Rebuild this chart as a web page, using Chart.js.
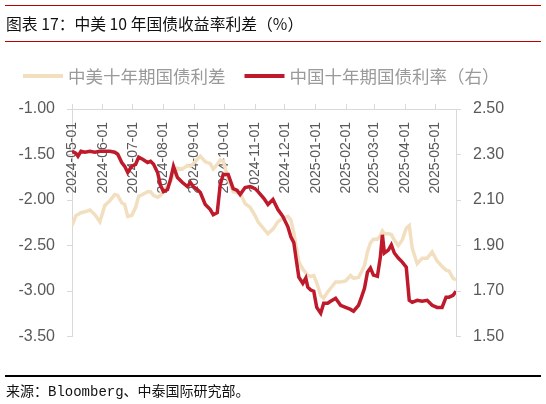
<!DOCTYPE html>
<html>
<head>
<meta charset="utf-8">
<script src="https://cdn.jsdelivr.net/npm/chart.js@4.4.1/dist/chart.umd.min.js"></script>
<style>
  html, body { margin:0; padding:0; background:#fff; }
  body { width:546px; height:404px; position:relative; overflow:hidden; }
  #c { position:absolute; left:0; top:0; }
  .rule { position:absolute; left:5px; width:536px; }
  #title { position:absolute; left:6px; top:13px; font:15.8px "Noto Sans CJK SC", sans-serif; color:#111; white-space:nowrap; line-height:22px; }
  #source { position:absolute; left:6px; top:382px; font:14px "Liberation Mono", "Noto Sans CJK SC", monospace; color:#111; white-space:nowrap; line-height:20px; }
</style>
</head>
<body>
<canvas id="c" width="546" height="404"></canvas>
<div class="rule" style="top:5px;height:1px;background:#c00000;"></div>
<div id="title">图表 17：中美 10 年国债收益率利差（%）</div>
<div class="rule" style="top:41px;height:1px;background:#c00000;"></div>
<div class="rule" style="top:375px;height:2px;background:#000;"></div>
<div id="source">来源：Bloomberg、中泰国际研究部。</div>
<script>
const seriesNames = ['中美十年期国债利差', '中国十年期国债利率（右）'];
const dates = [
 '2024-05-01','2024-05-05','2024-05-07','2024-05-10','2024-05-14','2024-05-19','2024-05-24','2024-05-29',
 '2024-06-03','2024-06-08','2024-06-13','2024-06-16','2024-06-20','2024-06-23','2024-06-26','2024-06-30',
 '2024-07-04','2024-07-07','2024-07-11','2024-07-16','2024-07-19','2024-07-22','2024-07-26','2024-07-29',
 '2024-08-01','2024-08-05','2024-08-08','2024-08-11','2024-08-15','2024-08-20','2024-08-25','2024-08-28','2024-08-31',
 '2024-09-04','2024-09-07','2024-09-12','2024-09-17','2024-09-20','2024-09-24','2024-09-27','2024-09-30',
 '2024-10-05','2024-10-10','2024-10-14','2024-10-17','2024-10-22','2024-10-27',
 '2024-11-01','2024-11-04','2024-11-10','2024-11-14','2024-11-19','2024-11-24','2024-11-29',
 '2024-12-04','2024-12-07','2024-12-10','2024-12-12','2024-12-15','2024-12-19','2024-12-22','2024-12-24','2024-12-27','2024-12-30',
 '2025-01-02','2025-01-06','2025-01-09','2025-01-13','2025-01-16','2025-01-21','2025-01-26','2025-01-31',
 '2025-02-05','2025-02-08','2025-02-13','2025-02-16','2025-02-19','2025-02-22','2025-02-25','2025-02-28',
 '2025-03-04','2025-03-07','2025-03-09','2025-03-11','2025-03-15','2025-03-18','2025-03-21','2025-03-25','2025-03-29',
 '2025-04-02','2025-04-05','2025-04-08','2025-04-13','2025-04-18','2025-04-23','2025-04-28',
 '2025-05-03','2025-05-08','2025-05-12','2025-05-15','2025-05-19','2025-05-22'
];
const spread = [
 -2.28,-2.17,-2.16,-2.14,-2.13,-2.11,-2.16,-2.24,
 -2.06,-2.01,-1.94,-1.95,-2.03,-2.05,-2.18,-2.17,
 -2.08,-1.96,-1.94,-1.91,-1.91,-1.95,-1.97,-1.95,
 -1.89,-1.85,-1.80,-1.72,-1.65,-1.66,-1.62,-1.63,-1.60,
 -1.55,-1.52,-1.58,-1.60,-1.66,-1.61,-1.56,-1.57,
 -1.77,-1.91,-1.92,-1.92,-2.04,-2.08,
 -2.17,-2.24,-2.32,-2.37,-2.32,-2.24,-2.20,
 -2.18,-2.22,-2.36,-2.49,-2.68,-2.76,-2.80,-2.83,-2.84,-2.83,
 -2.91,-3.05,-3.08,-3.01,-2.97,-2.90,-2.90,-2.89,
 -2.83,-2.86,-2.85,-2.79,-2.72,-2.57,-2.47,-2.43,
 -2.43,-2.39,-2.34,-2.37,-2.37,-2.38,-2.44,-2.50,-2.44,
 -2.31,-2.28,-2.53,-2.70,-2.64,-2.64,-2.57,
 -2.67,-2.73,-2.77,-2.78,-2.86,-2.88
];
const cnYield = [
 2.314,2.305,2.292,2.314,2.310,2.314,2.310,2.314,
 2.314,2.314,2.310,2.301,2.265,2.248,2.221,2.248,
 2.257,2.288,2.279,2.265,2.270,2.257,2.221,2.164,
 2.137,2.146,2.190,2.248,2.199,2.177,2.159,2.177,2.159,
 2.146,2.133,2.080,2.058,2.035,2.044,2.168,2.212,
 2.212,2.150,2.142,2.124,2.155,2.159,
 2.150,2.137,2.106,2.080,2.102,2.058,2.027,
 1.982,1.938,1.912,1.850,1.761,1.734,1.757,1.717,1.704,1.699,
 1.628,1.602,1.646,1.646,1.655,1.668,1.637,1.628,
 1.619,1.611,1.637,1.673,1.712,1.783,1.801,1.770,
 1.765,1.850,1.947,1.867,1.880,1.903,1.867,1.845,1.827,
 1.805,1.659,1.650,1.659,1.655,1.659,1.637,
 1.628,1.628,1.673,1.673,1.681,1.699
];
const xTickLabels = ['2024-05-01','2024-06-01','2024-07-01','2024-08-01','2024-09-01','2024-10-01','2024-11-01','2024-12-01','2025-01-01','2025-02-01','2025-03-01','2025-04-01','2025-05-01'];
const leftTicks = [-3.5, -3.0, -2.5, -2.0, -1.5, -1.0];
const rightTicks = [1.5, 1.7, 1.9, 2.1, 2.3, 2.5];

const base = Date.parse(dates[0] + 'T00:00:00Z');
const toDay = s => Math.round((Date.parse(s + 'T00:00:00Z') - base) / 86400000);
const xs = dates.map(toDay);

const COLORS = { spread: '#F2DFC0', cn: '#BE1A2C', axis: '#D9D9D9', text: '#595959', legend: '#9A9A9A' };

const xLabelPlugin = {
  id: 'xLabels',
  beforeDatasetsDraw(chart) {
    const { ctx, chartArea } = chart;
    const sx = chart.scales.x;
    ctx.save();
    ctx.fillStyle = COLORS.text;
    ctx.font = '14px "Liberation Sans", Arial, sans-serif';
    ctx.textAlign = 'right';
    ctx.textBaseline = 'middle';
    xTickLabels.forEach(lab => {
      const px = sx.getPixelForValue(toDay(lab));
      ctx.save();
      ctx.translate(px, chartArea.top + 13);
      ctx.rotate(-Math.PI / 2);
      ctx.fillText(lab, 0, 0);
      ctx.restore();
    });
    ctx.restore();
  }
};

const legendPlugin = {
  id: 'customLegend',
  afterDraw(chart) {
    const { ctx } = chart;
    ctx.save();
    ctx.font = '17.5px "Noto Sans CJK SC", sans-serif';
    ctx.textBaseline = 'middle';
    ctx.textAlign = 'left';
    let x = 23;
    const y = 76;
    chart.data.datasets.forEach(ds => {
      ctx.fillStyle = ds.borderColor;
      ctx.fillRect(x, y - 2, 40, 4);
      ctx.fillStyle = COLORS.legend;
      ctx.fillText(ds.label, x + 45, y);
      x += 45 + ctx.measureText(ds.label).width + 19;
    });
    ctx.restore();
  }
};

new Chart(document.getElementById('c'), {
  type: 'line',
  data: {
    datasets: [
      { label: seriesNames[0], data: xs.map((x, i) => ({ x, y: spread[i] })), yAxisID: 'y',
        borderColor: COLORS.spread, backgroundColor: COLORS.spread, borderWidth: 3.5, pointRadius: 0, tension: 0, order: 2 },
      { label: seriesNames[1], data: xs.map((x, i) => ({ x, y: cnYield[i] })), yAxisID: 'y1',
        borderColor: COLORS.cn, backgroundColor: COLORS.cn, borderWidth: 3.5, pointRadius: 0, tension: 0, order: 1 }
    ]
  },
  options: {
    responsive: false,
    animation: false,
    devicePixelRatio: 1,
    layout: { padding: { left: 0, right: 0, top: 104, bottom: 67.5 } },
    plugins: { legend: { display: false }, tooltip: { enabled: false } },
    scales: {
      x: {
        type: 'linear', position: 'top',
        min: xs[0], max: xs[xs.length - 1],
        afterBuildTicks: s => { s.ticks = xTickLabels.map(l => ({ value: toDay(l) })); },
        afterFit: s => { s.height = 5; },
        ticks: { display: false },
        grid: { drawOnChartArea: false, drawTicks: true, tickLength: 5, color: COLORS.axis },
        border: { display: true, color: COLORS.axis }
      },
      y: {
        position: 'left', min: -3.5, max: -1.0,
        afterBuildTicks: s => { s.ticks = leftTicks.map(v => ({ value: v })); },
        afterFit: s => { s.width = 72; },
        ticks: { color: COLORS.text, font: { size: 16, family: '"Liberation Sans", Arial, sans-serif' }, padding: 12,
                 callback: v => v.toFixed(2) },
        grid: { drawOnChartArea: false, drawTicks: true, tickLength: 5, color: COLORS.axis },
        border: { display: true, color: COLORS.axis }
      },
      y1: {
        position: 'right', min: 1.5, max: 2.5,
        afterBuildTicks: s => { s.ticks = rightTicks.map(v => ({ value: v })); },
        afterFit: s => { s.width = 90; },
        ticks: { color: COLORS.text, font: { size: 16, family: '"Liberation Sans", Arial, sans-serif' }, padding: 12,
                 callback: v => v.toFixed(2) },
        grid: { drawOnChartArea: false, drawTicks: true, tickLength: 5, color: COLORS.axis },
        border: { display: true, color: COLORS.axis }
      }
    }
  },
  plugins: [xLabelPlugin, legendPlugin]
});
</script>
</body>
</html>
